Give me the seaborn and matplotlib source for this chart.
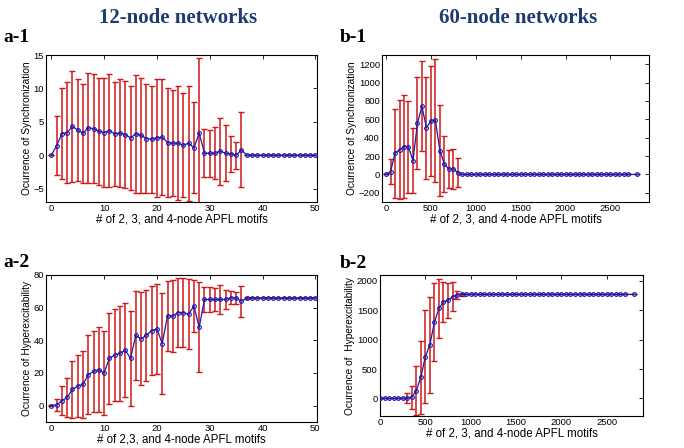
import matplotlib
matplotlib.use('Agg')
import matplotlib.pyplot as plt
import seaborn as sns
import pandas as pd

sns.set_style('white')
plt.rcParams['font.family'] = ['Liberation Sans', 'DejaVu Sans']
plt.rcParams['text.color'] = 'black'
plt.rcParams['axes.labelcolor'] = 'black'
plt.rcParams['xtick.color'] = 'black'
plt.rcParams['ytick.color'] = 'black'

# 12-node networks: x = number of motifs 0..50
a_x = [0, 1, 2, 3, 4, 5, 6, 7, 8, 9, 10, 11, 12, 13, 14, 15, 16, 17, 18, 19, 20,
       21, 22, 23, 24, 25, 26, 27, 28, 29, 30, 31, 32, 33, 34, 35, 36, 37, 38, 39, 40,
       41, 42, 43, 44, 45, 46, 47, 48, 49, 50]

a1_mean = [0, 1.4, 3.2, 3.4, 4.3, 3.8, 3.3, 4.1, 4.0, 3.6, 3.4, 3.7, 3.2, 3.3, 3.1, 2.6,
           3.2, 3.0, 2.5, 2.4, 2.6, 2.7, 1.9, 1.8, 1.8, 1.5, 1.8, 1.1, 3.3, 0.3, 0.3, 0.3,
           0.6, 0.3, 0.2, 0.0, 0.8, 0, 0, 0, 0, 0, 0, 0, 0, 0, 0, 0, 0, 0, 0]
a1_err = [0, 4.4, 6.8, 7.6, 8.3, 7.6, 7.4, 8.2, 8.2, 8.0, 8.1, 8.5, 7.8, 8.1, 8.0, 7.8,
          8.8, 8.6, 8.2, 8.0, 8.8, 8.7, 8.2, 7.9, 8.5, 7.8, 8.6, 6.8, 11.2, 3.6, 3.5, 3.9,
          5.0, 4.2, 2.7, 2.0, 5.6, 0, 0, 0, 0, 0, 0, 0, 0, 0, 0, 0, 0, 0, 0]

a2_mean = [0, 0.5, 3, 5, 10, 12, 13, 19, 21, 22, 20, 29, 31, 32, 34, 29, 43, 41, 43, 46,
           47, 38, 55, 55, 57, 57, 56, 61, 48, 65, 65, 65, 65, 65, 66, 66, 64, 66, 66, 66,
           66, 66, 66, 66, 66, 66, 66, 66, 66, 66, 66]
a2_err = [0.5, 3.5, 9, 12, 17.5, 19, 20.5, 24, 25, 26, 26, 28, 28, 29, 29, 29, 27.5, 28.5,
          28, 27.5, 27.5, 31, 21.5, 22, 21, 21, 21.5, 16, 27.5, 7.5, 7.5, 7, 9, 6, 4, 3.5,
          9.5, 0.5, 0, 0, 0, 0, 0, 0, 0, 0, 0, 0, 0, 0, 0]

# 60-node networks: x = number of motifs 0..2700 by 50, plus 2800
b_x = [0, 50, 100, 150, 200, 250, 300, 350, 400, 450, 500, 550, 600, 650, 700, 750, 800,
       850, 900, 950, 1000, 1050, 1100, 1150, 1200, 1250, 1300, 1350, 1400, 1450, 1500,
       1550, 1600, 1650, 1700, 1750, 1800, 1850, 1900, 1950, 2000, 2050, 2100, 2150, 2200,
       2250, 2300, 2350, 2400, 2450, 2500, 2550, 2600, 2650, 2700, 2800]

b1_mean = [0, 30, 230, 270, 300, 300, 150, 560, 740, 510, 580, 590, 260, 110, 60, 60, 20,
           0, 0, 0, 0, 0, 0, 0, 0, 0, 0, 0, 0, 0, 0, 0, 0, 0, 0, 0, 0, 0, 0, 0, 0, 0, 0, 0,
           0, 0, 0, 0, 0, 0, 0, 0, 0, 0, 0, 0]
b1_err = [0, 135, 485, 535, 560, 500, 355, 500, 490, 555, 595, 670, 500, 305, 205, 220, 160,
          0, 0, 0, 0, 0, 0, 0, 0, 0, 0, 0, 0, 0, 0, 0, 0, 0, 0, 0, 0, 0, 0, 0, 0, 0, 0, 0,
          0, 0, 0, 0, 0, 0, 0, 0, 0, 0, 0, 0]

b2_mean = [0, 0, 0, 0, 0, 0, 0, 20, 130, 360, 710, 910, 1300, 1530, 1640, 1670, 1730, 1760,
           1770, 1770, 1770, 1770, 1770, 1770, 1770, 1770, 1770, 1770, 1770, 1770, 1770,
           1770, 1770, 1770, 1770, 1770, 1770, 1770, 1770, 1770, 1770, 1770, 1770, 1770,
           1770, 1770, 1770, 1770, 1770, 1770, 1770, 1770, 1770, 1770, 1770, 1770]
b2_err = [0, 0, 0, 0, 0, 0, 85, 195, 420, 620, 795, 820, 670, 500, 335, 300, 245, 75, 30,
          0, 0, 0, 0, 0, 0, 0, 0, 0, 0, 0, 0, 0, 0, 0, 0, 0, 0, 0, 0, 0, 0, 0, 0, 0, 0, 0,
          0, 0, 0, 0, 0, 0, 0, 0, 0, 0]

BLUE = '#1a1ab4'
RED = '#d01818'
NAVY = '#1f3a6e'
W, H = 684, 448


def px_axes(fig, left, top, right, bottom):
    return fig.add_axes([left / W, 1 - bottom / H, (right - left) / W, (bottom - top) / H])


def panel(ax, x, mean, err, xlim, ylim, xticks, yticks, xlabel, ylabel):
    ax.errorbar(x, mean, yerr=err, fmt='none', ecolor=RED, elinewidth=1.1,
                capsize=2.5, capthick=1.0, zorder=2)
    df = pd.DataFrame({'x': x, 'y': mean})
    sns.lineplot(data=df, x='x', y='y', ax=ax, color=BLUE, lw=0.9, marker='o',
                 markersize=2.7, markeredgecolor=BLUE, markerfacecolor='none',
                 markeredgewidth=0.8, zorder=3)
    ax.set_xlim(*xlim)
    ax.set_ylim(*ylim)
    ax.set_xticks(xticks)
    ax.set_yticks(yticks)
    ax.set_xlabel(xlabel, fontsize=8.3, labelpad=0)
    ax.set_ylabel(ylabel, fontsize=7.3, labelpad=1)
    ax.tick_params(direction='in', length=3, width=0.6, labelsize=6.8, pad=1.5,
                   top=True, right=True)
    for s in ax.spines.values():
        s.set_linewidth(0.8)
        s.set_color('black')


fig = plt.figure(figsize=(6.84, 4.48), dpi=100)

ax1 = px_axes(fig, 46, 55, 317, 202)
panel(ax1, a_x, a1_mean, a1_err, (-1, 50.3), (-7, 15), [0, 10, 20, 30, 40, 50],
      [-5, 0, 5, 10, 15], '# of 2, 3, and 4-node APFL motifs', 'Ocurrence of Synchronization')

ax2 = px_axes(fig, 382, 55, 649, 202)
panel(ax2, b_x, b1_mean, b1_err, (-45, 2930), (-300, 1300), [0, 500, 1000, 1500, 2000, 2500],
      [-200, 0, 200, 400, 600, 800, 1000, 1200], '# of 2, 3, and 4-node APFL motifs',
      'Ocurrence of Synchronization')

ax3 = px_axes(fig, 46, 275, 317, 422)
panel(ax3, a_x, a2_mean, a2_err, (-1, 50.3), (-10, 80), [0, 10, 20, 30, 40, 50],
      [0, 20, 40, 60, 80], '# of 2,3, and 4-node APFL motifs', 'Ocurrence of Hyperexcitability')

ax4 = px_axes(fig, 380, 275, 643, 416)
panel(ax4, b_x, b2_mean, b2_err, (0, 2900), (-300, 2100), [0, 500, 1000, 1500, 2000, 2500],
      [0, 500, 1000, 1500, 2000], '# of 2, 3, and 4-node APFL motifs',
      'Ocurrence of  Hyperexcitability')

title_kw = dict(family=['Liberation Serif', 'DejaVu Serif'], weight='bold')
fig.text(178 / W, 1 - 18 / H, '12-node networks', fontsize=15, color=NAVY,
         ha='center', va='center', **title_kw)
fig.text(518 / W, 1 - 18 / H, '60-node networks', fontsize=15, color=NAVY,
         ha='center', va='center', **title_kw)
fig.text(3 / W, 1 - 37 / H, 'a-1', fontsize=14, color='black', ha='left', va='center', **title_kw)
fig.text(340 / W, 1 - 37 / H, 'b-1', fontsize=14, color='black', ha='left', va='center', **title_kw)
fig.text(3 / W, 1 - 262 / H, 'a-2', fontsize=14, color='black', ha='left', va='center', **title_kw)
fig.text(340 / W, 1 - 263 / H, 'b-2', fontsize=14, color='black', ha='left', va='center', **title_kw)

fig.savefig('out.png', dpi=100)
